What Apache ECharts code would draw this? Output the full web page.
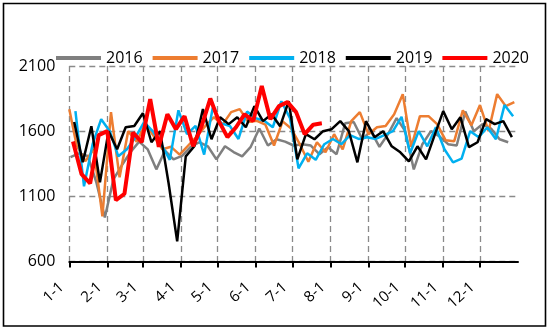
<!DOCTYPE html>
<html><head><meta charset="utf-8">
<script src="https://cdn.jsdelivr.net/npm/echarts@6/dist/echarts.min.js"></script>
<style>html,body{margin:0;padding:0;background:#fff}#c{width:550px;height:329px}</style>
</head><body><div id="c"></div>
<script>
// ---- data ----
const seriesNames = ['2016', '2017', '2018', '2019', '2020'];
const values2016 = [1400,1430,1410,1210,938,1230,1340,1440,1520,1460,1307,1450,1384,1410,1480,1515,1484,1384,1484,1440,1407,1480,1620,1490,1538,1520,1490,1500,1490,1423,1477,1423,1660,1670,1538,1600,1480,1577,1700,1600,1307,1500,1600,1560,1500,1490,1750,1600,1654,1620,1538,1515];
const values2017 = [1769,1490,1370,1461,946,1746,1246,1600,1520,1654,1560,1461,1480,1420,1490,1560,1640,1707,1650,1746,1769,1670,1680,1650,1490,1675,1620,1500,1365,1515,1438,1577,1461,1677,1746,1577,1630,1640,1730,1884,1480,1715,1715,1654,1530,1523,1760,1645,1800,1600,1884,1792,1823];
const values2018 = [1754,1177,1500,1692,1600,1407,1461,1554,1670,1600,1500,1380,1760,1577,1640,1420,1780,1660,1640,1540,1750,1700,1680,1630,1830,1700,1315,1430,1380,1500,1540,1500,1570,1540,1554,1540,1570,1600,1710,1430,1600,1484,1630,1461,1361,1390,1600,1554,1630,1538,1800,1715];
const values2019 = [1670,1361,1638,1207,1600,1461,1630,1640,1738,1515,1600,1200,754,1407,1484,1769,1538,1707,1654,1707,1630,1792,1677,1730,1638,1830,1384,1577,1538,1600,1615,1677,1600,1361,1677,1554,1600,1484,1438,1369,1484,1384,1570,1754,1615,1707,1477,1515,1692,1654,1677,1554];
const values2020 = [1520,1270,1200,1570,1600,1070,1120,1590,1515,1846,1480,1730,1615,1715,1484,1640,1850,1677,1554,1630,1730,1677,1946,1692,1792,1823,1746,1577,1650,1660];
// day-of-year of the first weekly observation of each year
const firstDay = { '2016': 1, '2017': 6, '2018': 5, '2019': 4, '2020': 3 };
const extraLeadingDay = { '2017': 0 }; // 2017 also has a 1-Jan observation
const monthStarts = [0, 31, 60, 91, 121, 152, 182, 213, 244, 274, 305, 335];
const monthLabels = ['1-1', '2-1', '3-1', '4-1', '5-1', '6-1', '7-1', '8-1', '9-1', '10-1', '11-1', '12-1'];
const yTicks = [600, 1100, 1600, 2100];
const colors = ['#7F7F7F', '#ED7D31', '#00B0F0', '#000000', '#FF0000'];
const allValues = [values2016, values2017, values2018, values2019, values2020];

function buildPoints(name, vals) {
  const pts = [];
  let offset = 0;
  if (extraLeadingDay[name] !== undefined) { pts.push([extraLeadingDay[name], vals[0]]); offset = 1; }
  for (let i = offset; i < vals.length; i++) pts.push([firstDay[name] + 7 * (i - offset), vals[i]]);
  return pts;
}

const FONT = 'Open Sans';
const dash = { color: '#8a8a8a', width: 1.3, type: [6, 4] };

const chart = echarts.init(document.getElementById('c'), null, { renderer: 'canvas' });
chart.setOption({
  animation: false,
  backgroundColor: '#fff',
  textStyle: { fontFamily: FONT },
  graphic: [{ type: 'rect', shape: { x: 3.5, y: 3.5, width: 542, height: 322.5 }, style: { fill: 'none', stroke: '#000', lineWidth: 1.6 }, z: 100 }],
  legend: {
    data: seriesNames, left: 51, top: 45, icon: 'rect', itemWidth: 45, itemHeight: 4, itemGap: 10,
    textStyle: { fontSize: 16, color: '#000', fontFamily: FONT }
  },
  grid: { left: 69.3, right: 32, top: 66, bottom: 67.5, containLabel: false },
  xAxis: {
    type: 'value', min: 0, max: 366,
    axisLine: { show: true, onZero: false, lineStyle: { color: '#000', width: 2 } },
    axisTick: { show: true, customValues: monthStarts, length: 6, lineStyle: { color: '#000', width: 2 } },
    axisLabel: {
      customValues: monthStarts, rotate: 42, margin: 17, padding: [0, 10, 0, 0],
      fontSize: 15, color: '#000', fontFamily: FONT,
      formatter: function (v) { const k = monthStarts.indexOf(Math.round(v)); return k >= 0 ? monthLabels[k] : ''; }
    },
    splitLine: { show: true, customValues: monthStarts, lineStyle: dash }
  },
  yAxis: {
    type: 'value', min: yTicks[0], max: yTicks[yTicks.length - 1], interval: 500,
    axisLine: { show: false }, axisTick: { show: false },
    axisLabel: { fontSize: 16, color: '#000', margin: 14, fontFamily: FONT, formatter: function (v) { return String(v); } },
    splitLine: { show: true, lineStyle: dash }
  },
  series: seriesNames.map((n, k) => ({
    name: n, type: 'line', data: buildPoints(n, allValues[k]), showSymbol: false, symbol: 'none',
    lineStyle: { color: colors[k], width: n === '2020' ? 4 : 2.5 }, itemStyle: { color: colors[k] },
    z: 2 + k
  }))
});
</script></body></html>
